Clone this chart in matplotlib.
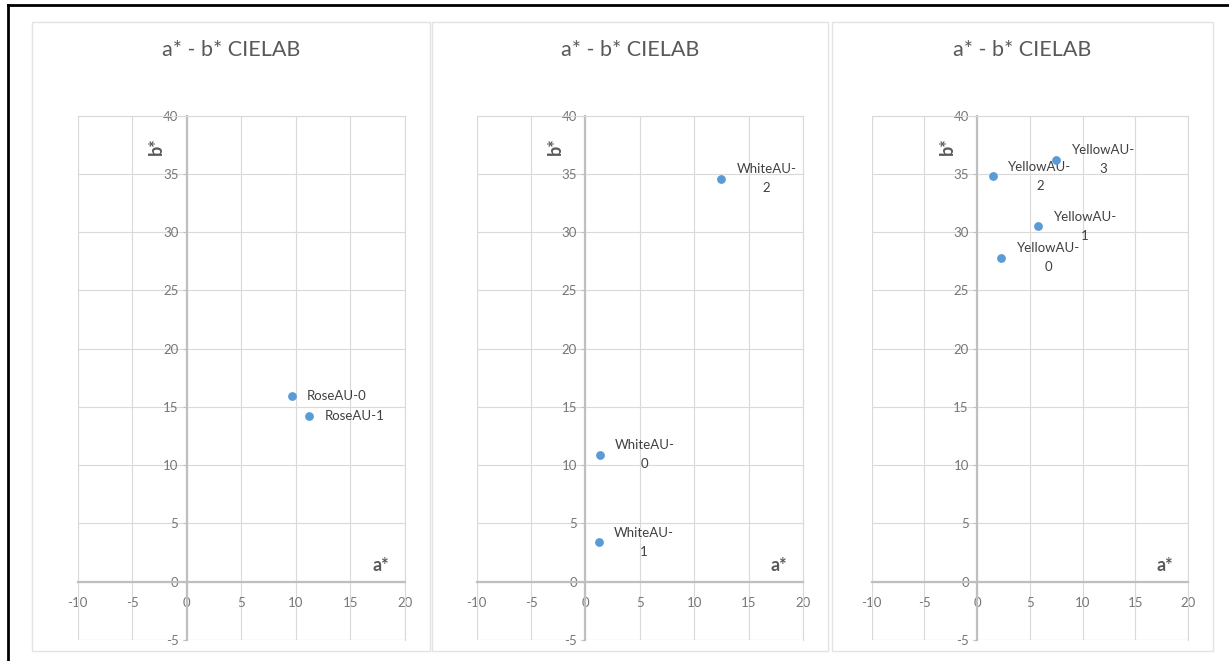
import matplotlib
matplotlib.use('Agg')
import matplotlib.pyplot as plt
from matplotlib.patches import Rectangle
from matplotlib.lines import Line2D

plt.rcParams['font.family'] = ['Lato', 'DejaVu Sans']
plt.rcParams['axes.unicode_minus'] = False

# Data
rose_names = ['RoseAU-0', 'RoseAU-1']
rose_a = [9.6, 11.2]
rose_b = [15.9, 14.2]

white_names = ['WhiteAU-\n0', 'WhiteAU-\n1', 'WhiteAU-\n2']
white_a = [1.3, 1.2, 12.5]
white_b = [10.9, 3.4, 34.6]

yellow_names = ['YellowAU-\n0', 'YellowAU-\n1', 'YellowAU-\n2', 'YellowAU-\n3']
yellow_a = [2.3, 5.8, 1.5, 7.5]
yellow_b = [27.8, 30.5, 34.8, 36.2]

x_ticks = [-10, -5, 0, 5, 10, 15, 20]
y_ticks = [-5, 0, 5, 10, 15, 20, 25, 30, 35, 40]
title = 'a* - b* CIELAB'

W, H = 1229, 661
BLUE = '#5b9bd5'
GRID = '#d9d9d9'
AXIS = '#bfbfbf'
TXT = '#595959'


def px_box(x0, y0, x1, y1):
    # pixel box (top-left origin) -> figure fraction [left, bottom, w, h]
    return [x0 / W, (H - y1) / H, (x1 - x0) / W, (y1 - y0) / H]


def panel(fig, rect, box, names, a, b):
    l, bt, w, h = px_box(*box)
    fig.patches.append(Rectangle((l, bt), w, h, transform=fig.transFigure,
                                 facecolor='none', edgecolor='#e3e3e3', lw=1, zorder=-1))
    cx = l + w / 2
    fig.text(cx, 1 - 50 / H, title, ha='center', va='center', fontsize=15.5, color=TXT)

    ax = fig.add_axes(px_box(*rect))
    ax.set_facecolor('none')
    ax.set_xlim(-10, 20)
    ax.set_ylim(-5, 40)
    ax.set_xticks(x_ticks)
    ax.set_yticks(y_ticks)
    ax.grid(True, color=GRID, lw=0.8)
    ax.set_axisbelow(True)

    for s in ['top', 'right']:
        ax.spines[s].set_color(GRID)
        ax.spines[s].set_linewidth(0.8)
    ax.spines['left'].set_position(('data', 0))
    ax.spines['bottom'].set_position(('data', 0))
    for s in ['left', 'bottom']:
        ax.spines[s].set_color(AXIS)
        ax.spines[s].set_linewidth(1.6)
    # outer frame of the plot area
    ax.add_line(Line2D([0, 0], [0, 1], transform=ax.transAxes, color=GRID, lw=0.8))
    ax.add_line(Line2D([0, 1], [0, 0], transform=ax.transAxes, color=GRID, lw=0.8))

    ax.tick_params(axis='y', length=3, color=AXIS, labelcolor='#777777', labelsize=9.5, pad=3)
    ax.tick_params(axis='x', length=0, labelcolor='#777777', labelsize=9.5, pad=11)

    ax.scatter(a, b, s=28, color=BLUE, zorder=5, clip_on=False)
    for n, x, y in zip(names, a, b):
        ax.annotate(n, (x, y), xytext=(11, 0), textcoords='offset points',
                    ha='left', va='center', multialignment='center',
                    linespacing=1.7, fontsize=9.5, color='#404040')

    ax.text(-2.8, 37.4, 'b*', rotation=90, ha='center', va='center',
            fontsize=13, fontweight='bold', color=TXT)
    ax.text(17.8, 1.4, 'a*', ha='center', va='center',
            fontsize=13, fontweight='bold', color=TXT)
    return ax


def main():
    fig = plt.figure(figsize=(W / 100, H / 100), dpi=100)

    panel(fig, (77.7, 115.7, 405, 640), (32, 22, 430, 651), rose_names, rose_a, rose_b)
    panel(fig, (476.7, 115.7, 803, 640), (432, 22, 828, 651), white_names, white_a, white_b)
    panel(fig, (871.7, 115.7, 1188, 640), (832, 22, 1213, 651), yellow_names, yellow_a, yellow_b)

    # black frame on top and left, as in the screenshot
    fig.add_artist(Line2D([8 / W, 1], [1 - 5 / H, 1 - 5 / H], transform=fig.transFigure, color='black', lw=2))
    fig.add_artist(Line2D([8 / W, 8 / W], [0, 1 - 5 / H], transform=fig.transFigure, color='black', lw=2))

    fig.savefig('out.png', dpi=100)


if __name__ == "__main__":
    main()
